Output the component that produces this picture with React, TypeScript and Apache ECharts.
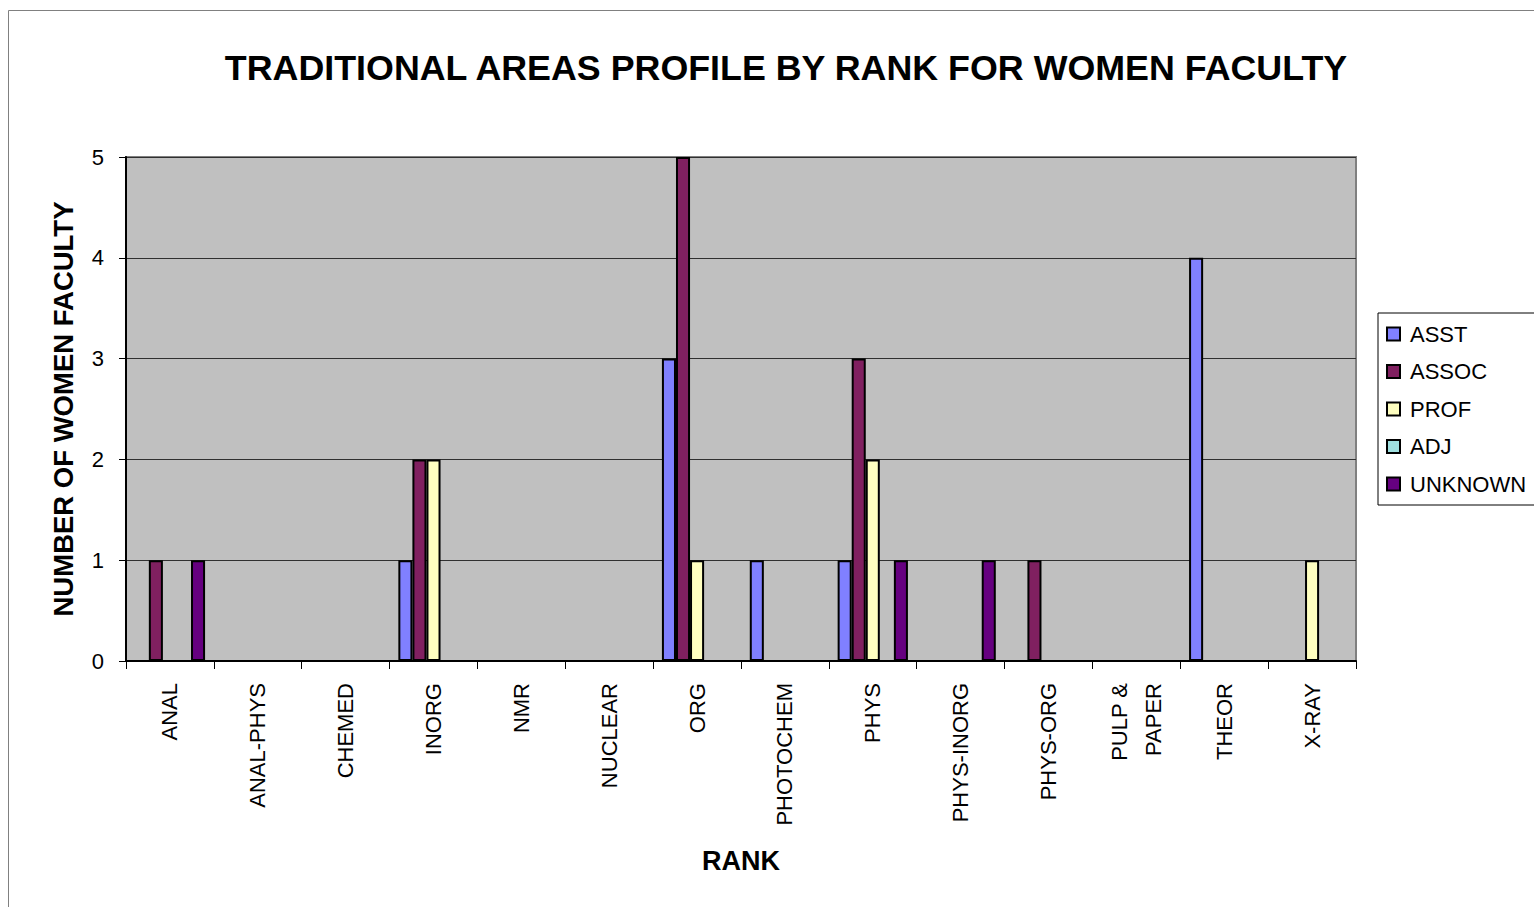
import React, { useEffect, useRef } from "react";
import * as echarts from "echarts";

const categories = [
  "ANAL",
  "ANAL-PHYS",
  "CHEMED",
  "INORG",
  "NMR",
  "NUCLEAR",
  "ORG",
  "PHOTOCHEM",
  "PHYS",
  "PHYS-INORG",
  "PHYS-ORG",
  "PULP &\nPAPER",
  "THEOR",
  "X-RAY",
];

const asst = [0, 0, 0, 1, 0, 0, 3, 1, 1, 0, 0, 0, 4, 0];
const assoc = [1, 0, 0, 2, 0, 0, 5, 0, 3, 0, 1, 0, 0, 0];
const prof = [0, 0, 0, 2, 0, 0, 1, 0, 2, 0, 0, 0, 0, 1];
const adj = [0, 0, 0, 0, 0, 0, 0, 0, 0, 0, 0, 0, 0, 0];
const unknown = [1, 0, 0, 0, 0, 0, 0, 0, 1, 1, 0, 0, 0, 0];

const seriesNames = ["ASST", "ASSOC", "PROF", "ADJ", "UNKNOWN"];
const seriesData = [asst, assoc, prof, adj, unknown];
const seriesColors = ["#8080FF", "#802060", "#FFFFC0", "#A0E0E0", "#660080"];

const yTicks = [0, 1, 2, 3, 4, 5];

const FONT = "'Liberation Sans', Arial, sans-serif";

export default function App() {
  const ref = useRef<HTMLDivElement>(null);

  useEffect(() => {
    if (!ref.current) return;
    const chart = echarts.init(ref.current, null, { renderer: "svg" });
    chart.setOption({
      animation: false,
      backgroundColor: "#FFFFFF",
      textStyle: { fontFamily: FONT },
      title: {
        text: "TRADITIONAL AREAS PROFILE BY RANK FOR WOMEN FACULTY",
        left: 781,
        textAlign: "center",
        top: 45,
        textStyle: {
          fontFamily: FONT,
          fontSize: 35.8,
          fontWeight: "bold",
          color: "#000",
        },
      },
      graphic: [
        {
          type: "rect",
          shape: { x: 8.5, y: 10.5, width: 1600, height: 1000 },
          style: { fill: "none", stroke: "#808080", lineWidth: 1 },
          silent: true,
          z: -1,
        },
      ],
      legend: {
        orient: "vertical",
        left: 1378,
        top: 313,
        width: 160,
        padding: [10, 20, 10, 8],
        itemGap: 15.5,
        itemWidth: 13,
        itemHeight: 13,
        borderColor: "#000",
        borderWidth: 1,
        backgroundColor: "#FFFFFF",
        icon: "rect",
        textStyle: { fontFamily: FONT, fontSize: 22, color: "#000", padding: [0, 0, 0, 5] },
        data: seriesNames,
      },
      grid: {
        left: 126,
        top: 157,
        width: 1230,
        height: 504,
        show: true,
        backgroundColor: "#C0C0C0",
        borderColor: "#808080",
        borderWidth: 2,
        containLabel: false,
      },
      xAxis: {
        type: "category",
        data: categories,
        name: "RANK",
        nameLocation: "middle",
        nameGap: 186,
        nameTextStyle: { fontFamily: FONT, fontSize: 27, fontWeight: "bold", color: "#000" },
        axisLine: { show: true, lineStyle: { color: "#000", width: 2 } },
        axisTick: { show: true, alignWithLabel: false, length: 8, lineStyle: { color: "#000", width: 1 } },
        axisLabel: {
          rotate: 90,
          fontFamily: FONT,
          fontSize: 22,
          color: "#000",
          margin: 22,
          lineHeight: 34,
          interval: 0,
        },
        splitLine: { show: false },
      },
      yAxis: {
        type: "value",
        min: 0,
        max: 5,
        interval: 1,
        name: "NUMBER OF WOMEN FACULTY",
        nameLocation: "middle",
        nameGap: 49,
        nameTextStyle: { fontFamily: FONT, fontSize: 27.5, fontWeight: "bold", color: "#000" },
        axisLine: { show: true, lineStyle: { color: "#000", width: 2 } },
        axisTick: { show: true, length: 7, lineStyle: { color: "#000" } },
        axisLabel: {
          fontFamily: FONT,
          fontSize: 22,
          color: "#000",
          margin: 22,
          formatter: (v: number) => (yTicks.includes(v) ? String(v) : ""),
        },
        splitLine: { show: true, lineStyle: { color: "#303030", width: 1 } },
      },
      series: seriesNames.map((name, i) => ({
        name,
        type: "bar",
        data: seriesData[i].map((v) => (v === 0 ? "-" : v)),
        barGap: "0%",
        barCategoryGap: "20%",
        itemStyle: {
          color: seriesColors[i],
          borderColor: "#000",
          borderWidth: 2,
        },
      })),
    });
    return () => chart.dispose();
  }, []);

  return (
    <div
      ref={ref}
      style={{ position: "fixed", left: 0, top: 0, width: 1534, height: 907 }}
    />
  );
}
